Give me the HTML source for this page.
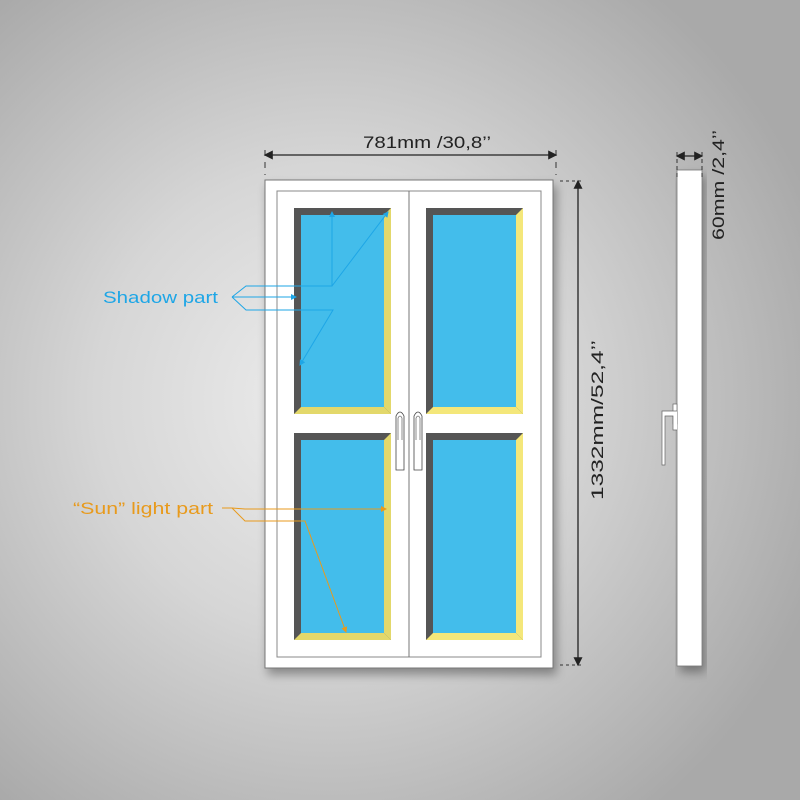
<!DOCTYPE html>
<html><head><style>
html,body{margin:0;padding:0;}
body{width:800px;height:800px;overflow:hidden;background:radial-gradient(ellipse 520px 520px at 330px 400px,#ededed 0%,#d6d6d6 45%,#a9a9a9 100%);}
svg{position:absolute;left:0;top:0;}
text{font-family:"Liberation Sans",sans-serif;}
</style></head><body>
<svg width="800" height="800" viewBox="0 0 800 800">
<defs>
<marker id="ab" markerWidth="6" markerHeight="6" refX="5" refY="3" orient="auto"><path d="M0,0 L6,3 L0,6z" fill="#1ea6e6"/></marker>
<marker id="ao" markerWidth="6" markerHeight="6" refX="5" refY="3" orient="auto"><path d="M0,0 L6,3 L0,6z" fill="#e89a1c"/></marker>
<marker id="ak" markerWidth="7" markerHeight="7" refX="6" refY="3.5" orient="auto-start-reverse"><path d="M0,0 L7,3.5 L0,7z" fill="#222"/></marker>
<filter id="sh" x="-20%" y="-20%" width="140%" height="140%"><feGaussianBlur in="SourceAlpha" stdDeviation="5"/><feOffset dx="3" dy="6"/><feComponentTransfer><feFuncA type="linear" slope="0.35"/></feComponentTransfer><feMerge><feMergeNode/><feMergeNode in="SourceGraphic"/></feMerge></filter>
</defs>
<rect x="265" y="180" width="288" height="488" fill="#fff" stroke="#777" stroke-width="1" filter="url(#sh)"/>
<rect x="277" y="191" width="264" height="466" fill="#fff" stroke="#888" stroke-width="1"/>
<line x1="409" y1="191" x2="409" y2="657" stroke="#777" stroke-width="1"/>
<g>
<rect x="294" y="208" width="97" height="206" fill="#555"/>
<polygon points="391,208 391,414 384,407 384,215" fill="#e3d86b"/>
<polygon points="294,414 391,414 384,407 301,407" fill="#e3d86b"/>
<rect x="301" y="215" width="83" height="192" fill="#43bdeb"/>
</g>
<g transform="translate(0,225)">
<rect x="294" y="208" width="97" height="207" fill="#555"/>
<polygon points="391,208 391,415 384,408 384,215" fill="#e3d86b"/>
<polygon points="294,415 391,415 384,408 301,408" fill="#e3d86b"/>
<rect x="301" y="215" width="83" height="193" fill="#43bdeb"/>
</g>
<g transform="translate(132,0)">
<rect x="294" y="208" width="97" height="206" fill="#555"/>
<polygon points="391,208 391,414 384,407 384,215" fill="#f4e77a"/>
<polygon points="294,414 391,414 384,407 301,407" fill="#f4e77a"/>
<rect x="301" y="215" width="83" height="192" fill="#43bdeb"/>
</g>
<g transform="translate(132,225)">
<rect x="294" y="208" width="97" height="207" fill="#555"/>
<polygon points="391,208 391,415 384,408 384,215" fill="#f4e77a"/>
<polygon points="294,415 391,415 384,408 301,408" fill="#f4e77a"/>
<rect x="301" y="215" width="83" height="193" fill="#43bdeb"/>
</g>
<path d="M396,470 L396,416 Q400,408 404,416 L404,470 Z" fill="#fff" stroke="#444" stroke-width="0.8"/>
<path d="M398,440 L398,418 Q400,414 402,418 L402,440" fill="none" stroke="#444" stroke-width="0.6"/>
<path d="M414,470 L414,416 Q418,408 422,416 L422,470 Z" fill="#fff" stroke="#444" stroke-width="0.8"/>
<path d="M416,440 L416,418 Q418,414 420,418 L420,440" fill="none" stroke="#444" stroke-width="0.6"/>
<g stroke="#1ea6e6" stroke-width="1" fill="none">
<polyline points="232,297 246,286 332,286 332,212" marker-end="url(#ab)"/>
<polyline points="332,286 388,212" marker-end="url(#ab)"/>
<polyline points="232,297 296,297" marker-end="url(#ab)"/>
<polyline points="232,297 246,310 333,310 300,365" marker-end="url(#ab)"/>
</g>
<text x="103" y="303" font-size="17" fill="#1ea6e6" textLength="115" lengthAdjust="spacingAndGlyphs">Shadow part</text>
<g stroke="#e89a1c" stroke-width="1" fill="none">
<line x1="222" y1="508" x2="232" y2="508"/>
<polyline points="232,508 245,509 386,509" marker-end="url(#ao)"/>
<polyline points="232,508 245,521 305,521 346,632" marker-end="url(#ao)"/>
</g>
<text x="73" y="514" font-size="17" fill="#e89a1c" textLength="140" lengthAdjust="spacingAndGlyphs">“Sun” light part</text>
<line x1="265" y1="155" x2="556" y2="155" stroke="#222" stroke-width="1.3" marker-start="url(#ak)" marker-end="url(#ak)"/>
<line x1="265" y1="150" x2="265" y2="175" stroke="#333" stroke-dasharray="6,6"/>
<line x1="556" y1="150" x2="556" y2="175" stroke="#333" stroke-dasharray="6,6"/>
<text x="363" y="148" font-size="17" fill="#222" textLength="128" lengthAdjust="spacingAndGlyphs">781mm /30,8’’</text>
<line x1="578" y1="181" x2="578" y2="665" stroke="#222" stroke-width="1.3" marker-start="url(#ak)" marker-end="url(#ak)"/>
<line x1="560" y1="181" x2="584" y2="181" stroke="#333" stroke-dasharray="3,3"/>
<line x1="560" y1="665" x2="584" y2="665" stroke="#333" stroke-dasharray="3,3"/>
<text x="0" y="0" font-size="17" fill="#222" transform="translate(603,500) rotate(-90)" textLength="160" lengthAdjust="spacingAndGlyphs">1332mm/52,4’’</text>
<rect x="677" y="170" width="25" height="496" fill="#fff" stroke="#777" stroke-width="0.8" filter="url(#sh)"/>
<line x1="677" y1="156" x2="702" y2="156" stroke="#222" stroke-width="1.3" marker-start="url(#ak)" marker-end="url(#ak)"/>
<line x1="677" y1="152" x2="677" y2="180" stroke="#333" stroke-dasharray="4,3"/>
<line x1="702" y1="152" x2="702" y2="180" stroke="#333" stroke-dasharray="4,3"/>
<text x="0" y="0" font-size="17" fill="#222" transform="translate(724,240) rotate(-90)" textLength="110" lengthAdjust="spacingAndGlyphs">60mm /2,4’’</text>
<rect x="673" y="404" width="4" height="20" fill="#fff" stroke="#666" stroke-width="0.7"/>
<path d="M677,411 L662,411 L662,465 L665,465 L665,416 L673,416 L673,430 L677,430" fill="#fff" stroke="#666" stroke-width="0.7"/>
</svg>
</body></html>
